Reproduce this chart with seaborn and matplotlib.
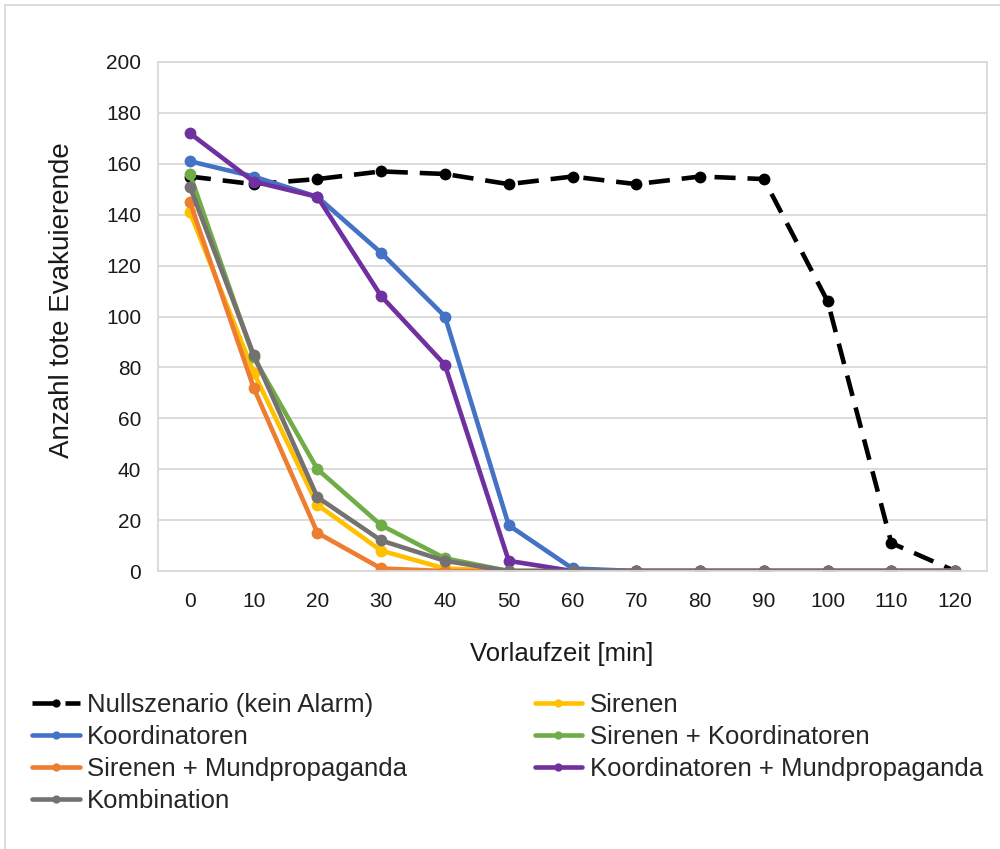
import matplotlib
matplotlib.use("Agg")
import matplotlib.pyplot as plt
from matplotlib.patches import Rectangle
import seaborn as sns
import pandas as pd

minutes = [0, 10, 20, 30, 40, 50, 60, 70, 80, 90, 100, 110, 120]

series_names = [
    "Nullszenario (kein Alarm)",
    "Sirenen",
    "Koordinatoren",
    "Sirenen + Koordinatoren",
    "Sirenen + Mundpropaganda",
    "Koordinatoren + Mundpropaganda",
    "Kombination",
]

nullszenario = [155, 152, 154, 157, 156, 152, 155, 152, 155, 154, 106, 11, 0]
sirenen = [141, 78, 26, 8, 1, 0, 0, 0, 0, 0, 0, 0, 0]
koordinatoren = [161, 155, 147, 125, 100, 18, 1, 0, 0, 0, 0, 0, 0]
sirenen_koord = [156, 84, 40, 18, 5, 0, 0, 0, 0, 0, 0, 0, 0]
sirenen_mund = [145, 72, 15, 1, 0, 0, 0, 0, 0, 0, 0, 0, 0]
koord_mund = [172, 153, 147, 108, 81, 4, 0, 0, 0, 0, 0, 0, 0]
kombination = [151, 85, 29, 12, 4, 0, 0, 0, 0, 0, 0, 0, 0]

values = [nullszenario, sirenen, koordinatoren, sirenen_koord,
          sirenen_mund, koord_mund, kombination]
colors = ["#000000", "#FFC000", "#4472C4", "#70AD47",
          "#ED7D31", "#7030A0", "#767171"]

sns.set_theme(style="white")
plt.rcParams["font.family"] = ["Liberation Sans", "DejaVu Sans"]

fig = plt.figure(figsize=(10, 8.49), dpi=100)
ax = fig.add_axes([0.158, 0.3274, 0.829, 0.5996])

for name, vals, col in zip(series_names, values, colors):
    df = pd.DataFrame({"min": minutes, "val": vals})
    dashed = name.startswith("Nullszenario")
    sns.lineplot(data=df, x="min", y="val", ax=ax, color=col,
                 linewidth=3.3, marker="o", markersize=8.5,
                 markeredgewidth=0, label=name,
                 linestyle=(0, (4.6, 2.6)) if dashed else "-")

h, l = ax.get_legend_handles_labels()
ax.get_legend().remove()
lookup = dict(zip(l, h))
# two-column legend filled row by row
order = [series_names[i] for i in (0, 2, 4, 6, 1, 3, 5)]
fig.legend([lookup[n] for n in order], order, ncol=2,
           loc="upper left", bbox_to_anchor=(0.009, 0.2105),
           frameon=False, fontsize=18.5, handlelength=1.85,
           handletextpad=0.3, columnspacing=4.95, labelspacing=0.31,
           markerscale=0.7)

ax.set_xlim(-5, 125)
ax.set_ylim(0, 200)
ax.set_xticks(minutes)
ax.set_yticks(range(0, 201, 20))
ax.tick_params(axis="both", labelsize=15, colors="#1a1a1a", length=0)
ax.tick_params(axis="x", pad=15)
ax.tick_params(axis="y", pad=12)
ax.grid(axis="y", color="#d9d9d9", linewidth=1.3)
ax.grid(axis="x", visible=False)
ax.set_axisbelow(True)
for s in ax.spines.values():
    s.set_color("#d9d9d9")
    s.set_linewidth(1.3)

ax.set_xlabel("Vorlaufzeit [min]", fontsize=18.5, color="#1a1a1a")
ax.set_ylabel("Anzahl tote Evakuierende", fontsize=20, color="#1a1a1a")
ax.xaxis.set_label_coords(0.487, -0.139)
ax.yaxis.set_label_coords(-0.100, 0.532)

fig.patches.append(Rectangle((0.005, -0.01), 1.2, 1.004, fill=False,
                             edgecolor="#d9d9d9", linewidth=1.3,
                             transform=fig.transFigure, figure=fig))

fig.savefig("out.png", dpi=100, facecolor="white")
